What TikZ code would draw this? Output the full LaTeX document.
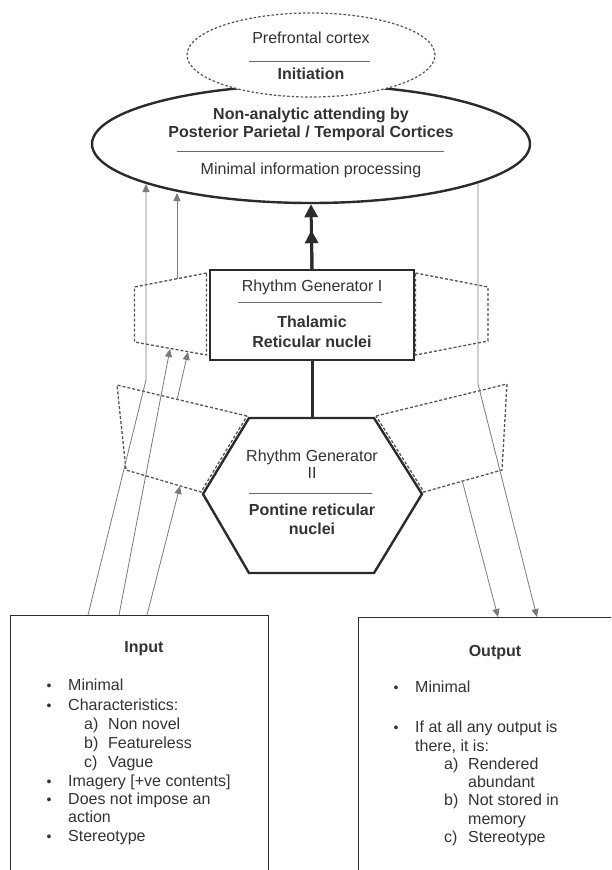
\documentclass[tikz,border=0pt]{standalone}
\usepackage{fontspec}
\setmainfont{Liberation Sans}
\usetikzlibrary{shapes.geometric,arrows.meta}
\definecolor{ink}{HTML}{2B2B2B}
\definecolor{txt}{HTML}{333333}
\definecolor{dsh}{HTML}{555555}
\definecolor{thin}{HTML}{7A7A7A}
\definecolor{rulec}{HTML}{6A6A6A}
\begin{document}
\begin{tikzpicture}[x=1pt,y=-1pt,
  lbl/.style={font=\fontsize{16}{19}\selectfont, text=txt, inner sep=0pt, text height=11.5pt, text depth=3.4pt},
  bl/.style={lbl, font=\fontsize{16}{19}\selectfont\bfseries},
  lw/.style={lbl, anchor=west},
  bul/.style={lbl, font=\fontsize{14}{16}\selectfont},
  rulel/.style={draw=rulec, line width=1pt},
  thick shape/.style={draw=ink, line width=2.4pt, fill=white},
  wing/.style={draw=dsh, line width=1.3pt, dash pattern=on 3pt off 2pt, line join=miter},
  conn/.style={draw=thin, line width=0.8pt, -{Triangle[length=8pt,width=7pt]}},
  box/.style={draw=ink, line width=1.3pt, inner sep=0pt, anchor=north west}
]
\useasboundingbox (0,0) rectangle (611,870);
\clip (0,0) rectangle (611,870);
\fill[white] (0,0) rectangle (611,870);

% ---------- cortex ellipses ----------
\node[ellipse, thick shape, minimum width=438pt, minimum height=118pt, inner sep=0pt] (cortex) at (311,144) {};
\node[ellipse, draw=dsh, line width=1.2pt, dash pattern=on 2.5pt off 2pt, fill=white,
      minimum width=248pt, minimum height=84pt, inner sep=0pt] (pfc) at (311,55) {};
\node[lbl] (pfct) at (311,39) {Prefrontal cortex};
\draw[rulel] (249,61) -- (370,61);
\node[bl] (init) at (311,75) {Initiation};
\node[bl] (na1) at (311,115) {Non-analytic attending by};
\node[bl] (na2) at (311,133) {Posterior Parietal / Temporal Cortices};
\draw[rulel] (177,151) -- (444,151);
\node[lbl] (mip) at (311,170) {Minimal information processing};

% ---------- wings (dashed) ----------
\draw[wing] (206.5,273) -- (134.5,287) -- (134.5,342) -- (206.5,355) -- cycle;
\draw[wing] (415.5,273) -- (488,287) -- (488,341) -- (415.5,355) -- cycle;
\draw[wing] (247,416) -- (117,385) -- (126,470) -- (201,492) -- cycle;
\draw[wing] (376,416) -- (507,384) -- (502,470) -- (424,492) -- cycle;

% ---------- rhythm generator I ----------
\node[thick shape, minimum width=204pt, minimum height=90pt, inner sep=0pt] (rg1) at (312,315) {};
\node[lbl] (rg1a) at (312,287) {Rhythm Generator I};
\draw[rulel] (238,302) -- (382,302);
\node[bl] (rg1b) at (312,323) {Thalamic};
\node[bl] (rg1c) at (312,343) {Reticular nuclei};

% ---------- rhythm generator II (hexagon) ----------
\draw[thick shape, line join=miter] (249,418) -- (374,418) -- (422,494) -- (374,573) -- (249,573) -- (203,494) -- cycle;
\node[minimum width=219pt, minimum height=155pt, inner sep=0pt] (rg2) at (312,495.5) {};
\node[lbl] (rg2a) at (312,457) {Rhythm Generator};
\node[lbl] (rg2b) at (312,474) {II};
\draw[rulel] (249,493) -- (372,493);
\node[bl] (rg2c) at (312,511) {Pontine reticular};
\node[bl] (rg2d) at (312,530) {nuclei};

% ---------- thick central connectors ----------
\draw[ink, line width=3pt] (rg2.north) -- (rg1.south);
\draw[ink, line width=3pt, -{Triangle[length=13pt,width=13pt]}] (rg1.north) -- (cortex.south);
\draw[ink, line width=3pt, shorten >=26pt, -{Triangle[length=13pt,width=13pt]}] (rg1.north) -- (cortex.south);

% ---------- input / output boxes ----------
\node[box, minimum width=258pt, minimum height=270pt] (inbox) at (10,615) {};
\node[box, minimum width=270pt, minimum height=270pt] (outbox) at (358,617) {};

% ---------- thin connectors ----------
\coordinate (in1) at (88,615);
\coordinate (in2) at (119,615);
\coordinate (in3) at (147,615);
\coordinate (b1) at (146,380);
\coordinate (e1) at (146,184);
\coordinate (e2) at (177,193);
\coordinate (w1top) at (177,279);
\coordinate (w1b1) at (170,349);
\coordinate (w1b2) at (188,352);
\coordinate (w2top) at (177,400);
\coordinate (w2bot) at (180,486);
\coordinate (er) at (478,183);
\coordinate (br) at (478,384);
\coordinate (w4bot) at (462,480);
\coordinate (o1) at (498,617);
\coordinate (o2) at (537,617);

\draw[conn] (in1) -- (b1) -- (e1);
\draw[conn] (w1top) -- (e2);
\draw[conn] (in2) -- (w1b1);
\draw[conn] (w2top) -- (w1b2);
\draw[conn] (in3) -- (w2bot);
\draw[conn] (er) -- (br) -- (o2);
\draw[conn] (w4bot) -- (o1);

% ---------- input text ----------
\node[bl, font=\fontsize{16}{19}\selectfont\bfseries] (inT) at (144,648) {Input};
\node[bul] (ib1) at (49,686) {•};
\node[lw] (it1) at (68,686) {Minimal};
\node[bul] (ib2) at (49,706) {•};
\node[lw] (it2) at (68,706) {Characteristics:};
\node[lw] (ia) at (84,725) {a)};
\node[lw] (iat) at (108,725) {Non novel};
\node[lw] (ib) at (84,744) {b)};
\node[lw] (ibt) at (108,744) {Featureless};
\node[lw] (ic) at (84,763) {c)};
\node[lw] (ict) at (108,763) {Vague};
\node[bul] (ib3) at (49,782) {•};
\node[lw] (it3) at (68,782) {Imagery [+ve contents]};
\node[bul] (ib4) at (49,800) {•};
\node[lw] (it4) at (68,800) {Does not impose an};
\node[lw] (it4b) at (68,818) {action};
\node[bul] (ib5) at (49,837) {•};
\node[lw] (it5) at (68,837) {Stereotype};

% ---------- output text ----------
\node[bl] (outT) at (495,652) {Output};
\node[bul] (ob1) at (396,688) {•};
\node[lw] (ot1) at (415,688) {Minimal};
\node[bul] (ob2) at (396,728) {•};
\node[lw] (ot2) at (415,728) {If at all any output is};
\node[lw] (ot2b) at (415,747) {there, it is:};
\node[lw] (oa) at (444,765) {a)};
\node[lw] (oat) at (468,765) {Rendered};
\node[lw] (oat2) at (468,783) {abundant};
\node[lw] (ob) at (444,801) {b)};
\node[lw] (obt) at (468,801) {Not stored in};
\node[lw] (obt2) at (468,820) {memory};
\node[lw] (oc) at (444,838) {c)};
\node[lw] (oct) at (468,838) {Stereotype};
\end{tikzpicture}
\end{document}
